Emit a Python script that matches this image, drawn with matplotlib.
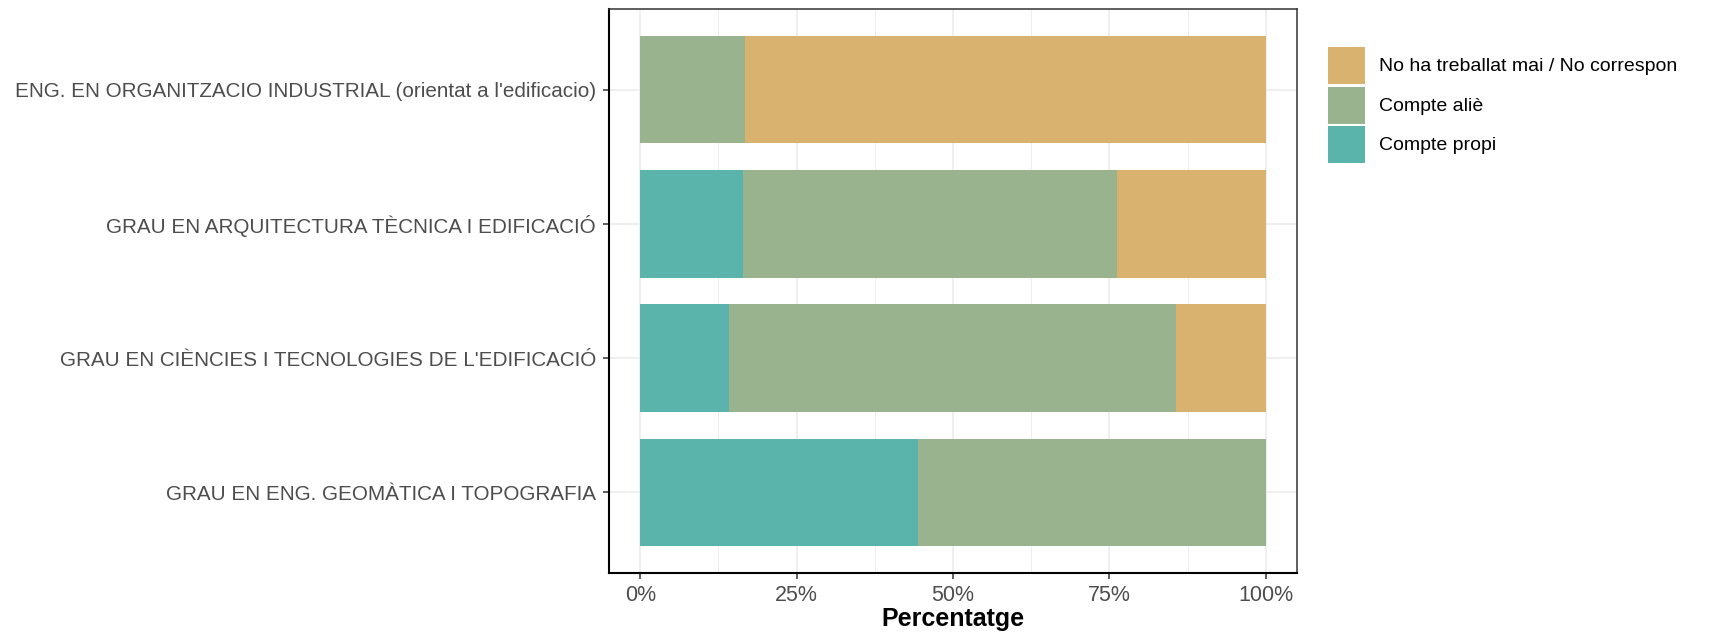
import matplotlib
matplotlib.use("Agg")
import matplotlib.pyplot as plt
from matplotlib.patches import Patch
from matplotlib.ticker import FixedLocator
import numpy as np

plt.rcParams['font.family'] = ['Liberation Sans', 'DejaVu Sans']

categories = [
    "ENG. EN ORGANITZACIO INDUSTRIAL (orientat a l'edificacio)",
    "GRAU EN ARQUITECTURA TÈCNICA I EDIFICACIÓ",
    "GRAU EN CIÈNCIES I TECNOLOGIES DE L'EDIFICACIÓ",
    "GRAU EN ENG. GEOMÀTICA I TOPOGRAFIA",
]
compte_propi = [0.0, 16.4, 14.2, 44.4]
compte_alie = [16.7, 59.9, 71.5, 55.6]
no_ha = [83.3, 23.7, 14.3, 0.0]

series_names = ["Compte propi", "Compte aliè", "No ha treballat mai / No correspon"]
legend_labels = ["No ha treballat mai / No correspon", "Compte aliè", "Compte propi"]
colors = {"Compte propi": "#5BB4AC",
          "Compte aliè": "#9AB38F",
          "No ha treballat mai / No correspon": "#D8B26E"}
xticks = [0, 25, 50, 75, 100]
xticklabels = ["0%", "25%", "50%", "75%", "100%"]

fig = plt.figure(figsize=(17.09, 6.35), dpi=100)
ax = fig.add_axes([609/1709, 1-573/635, (1297-609)/1709, (573-9)/635])

ypos = np.arange(len(categories))[::-1] + 1  # top category highest
series = [compte_propi, compte_alie, no_ha]
left = np.zeros(len(categories))
for name, vals in zip(series_names, series):
    vals = np.array(vals)
    ax.barh(ypos, vals, left=left, height=0.8, color=colors[name], zorder=2)
    left = left + vals

ax.set_xlim(-5, 105)
ax.set_ylim(0.4, 4.6)
ax.set_yticks(ypos)
ax.set_yticklabels(categories, fontsize=14.85, color="#4D4D4D")
ax.set_xticks(xticks)
ax.set_xticklabels(xticklabels, fontsize=15.5, color="#4D4D4D")
ax.xaxis.set_minor_locator(FixedLocator([12.5, 37.5, 62.5, 87.5]))
ax.grid(True, which="major", color="#EBEBEB", lw=1.1, zorder=0)
ax.grid(True, which="minor", axis="x", color="#EBEBEB", lw=0.6, zorder=0)
ax.set_axisbelow(True)
ax.tick_params(axis="both", which="major", length=4.5, width=1.1, color="#333333")
ax.tick_params(axis="y", which="major", pad=5)
ax.tick_params(axis="x", which="major", pad=4)
ax.tick_params(axis="x", which="minor", length=0)
for s in ["left", "bottom"]:
    ax.spines[s].set_color("black")
    ax.spines[s].set_linewidth(1.5)
for s in ["top", "right"]:
    ax.spines[s].set_color("#333333")
    ax.spines[s].set_linewidth(1.1)
ax.set_xlabel("Percentatge", fontsize=18, fontweight="bold", color="black", labelpad=1)

fs = 14
fs_px = fs * 100 / 72
key_px = 37.0
hh = (key_px / fs_px - 0.245) / 0.65
handles = [Patch(facecolor=colors[n], edgecolor="none") for n in legend_labels]
fig.legend(handles, legend_labels, loc="upper left",
           bbox_to_anchor=(1328/1709, 1-47/635), frameon=False, fontsize=fs,
           handlelength=key_px/fs_px, handleheight=hh, labelspacing=2.5/fs_px,
           handletextpad=14/fs_px, borderaxespad=0, borderpad=0)

fig.savefig("out.png", dpi=100)
